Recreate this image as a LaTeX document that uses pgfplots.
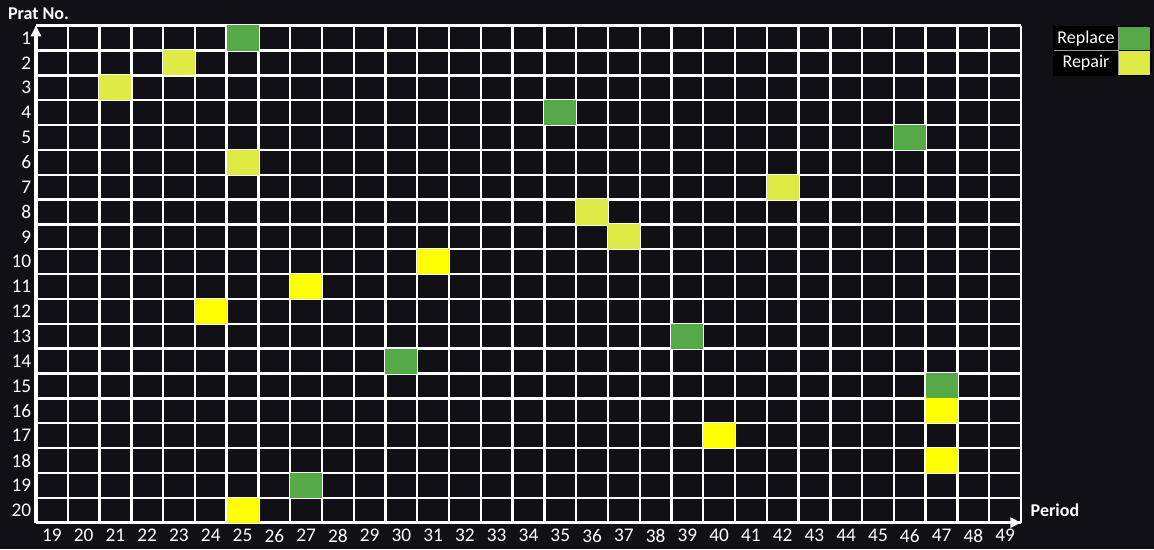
\documentclass[border=0pt]{standalone}
\usepackage{fontspec}
\setmainfont{Carlito}
\usepackage{pgfplots}
\pgfplotsset{compat=1.18}
\usepackage{pgfplotstable}
\usetikzlibrary{arrows.meta}

\definecolor{bgc}{HTML}{111017}
\definecolor{replc}{HTML}{55AA47}
\definecolor{repc}{HTML}{E0EA45}
\definecolor{repb}{HTML}{FFFF00}
\definecolor{legsep}{HTML}{9A9A9A}

% one grid cell, filled
\pgfdeclareplotmark{cell}{%
  \pgfpathrectangle{\pgfpoint{-12pt}{-9.4pt}}{\pgfpoint{24pt}{18.8pt}}%
  \pgfusepathqfill}

% period, part number (row 1 at top)
\pgfplotstableread{
period part
25 1
35 4
46 5
39 13
30 14
47 15
27 19
}\replacedata
\pgfplotstableread{
period part
23 2
21 3
25 6
42 7
36 8
37 9
}\repairdata
\pgfplotstableread{
period part
31 10
27 11
24 12
47 16
40 17
47 18
25 20
}\repairbdata

\newcommand\tf{\fontsize{13.5pt}{16pt}\selectfont}
\newcommand\tkf{\fontsize{14.5pt}{17pt}\selectfont}

\begin{document}
\begin{tikzpicture}
\fill[bgc] (-27pt,-19.875pt) rectangle (838.5pt,391.95pt);
\begin{axis}[
  scale only axis, width=738.75pt, height=372.75pt,
  xmin=18.5, xmax=49.5, ymin=0.5, ymax=20.5,
  axis lines=left,
  axis on top,
  axis line style={white, line width=2.4pt, -{Triangle[length=8pt,width=7.5pt]}},
  xtick={19,...,49}, ytick={1,...,20},
  yticklabels={20,19,18,17,16,15,14,13,12,11,10,9,8,7,6,5,4,3,2,1},
  minor xtick={18.5,19.5,...,49.5},
  minor ytick={0.5,1.5,...,20.5},
  minor grid style={white, line width=1.8pt},
  xminorgrids, yminorgrids,
  major tick length=0pt, minor tick length=0pt,
  tick label style={white, font=\tkf},
  xticklabel style={yshift=-1.5pt},
  /pgf/number format/assume math mode=true,
  xlabel={\textbf{Period}}, ylabel={\textbf{Prat No.}},
  every axis x label/.style={at={(rel axis cs:1.0051,0.01315)}, anchor=base west, text=white, font=\tf},
  every axis y label/.style={at={(rel axis cs:-0.0332,1.0121)}, anchor=base west, text=white, font=\tf},
]
\addplot[only marks, mark=cell, color=replc] table[x=period, y expr=21-\thisrow{part}] {\replacedata};
\addplot[only marks, mark=cell, color=repc] table[x=period, y expr=21-\thisrow{part}] {\repairdata};
\addplot[only marks, mark=cell, color=repb] table[x=period, y expr=21-\thisrow{part}] {\repairbdata};
\end{axis}
% legend
\fill[black] (762.75pt,334.9pt) rectangle (837pt,372.4pt);
\fill[replc] (812.25pt,354.4pt) rectangle (835.5pt,371.6pt);
\fill[repc] (812.25pt,335.6pt) rectangle (835.5pt,353.6pt);
\draw[legsep, line width=0.75pt] (763.5pt,354pt) -- (812pt,354pt);
\draw[legsep, line width=0.75pt] (812pt,335.6pt) -- (812pt,371.6pt);
\node[text=white, font=\tf] at (787.5pt,363pt) {Replace};
\node[text=white, font=\tf] at (787.5pt,344.6pt) {Repair};
\end{tikzpicture}
\end{document}
